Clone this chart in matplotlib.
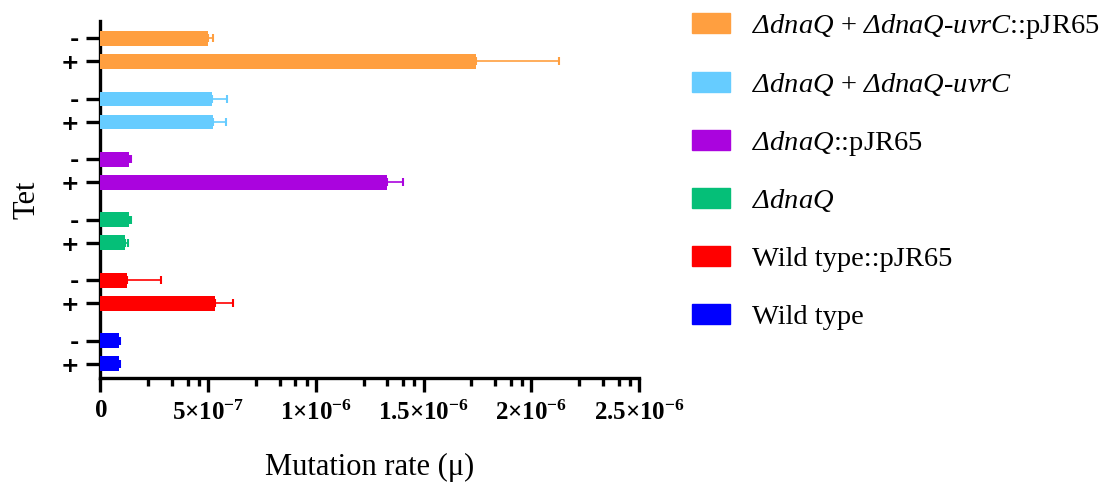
import numpy as np
import matplotlib
matplotlib.use("Agg")
import matplotlib.pyplot as plt
from matplotlib.patches import Rectangle
from matplotlib.ticker import FixedLocator

plt.rcParams['font.family'] = ['Liberation Serif', 'DejaVu Serif']
# math parts of the legend are the gene names, all italic (Greek capitals use the rm slot)
plt.rcParams['mathtext.fontset'] = 'custom'
plt.rcParams['mathtext.rm'] = 'Liberation Serif:italic'
plt.rcParams['mathtext.it'] = 'Liberation Serif:italic'
plt.rcParams['mathtext.bf'] = 'Liberation Serif:bold'

# strains, bottom to top
strain_labels = [
    'Wild type',
    'Wild type::pJR65',
    r'$\mathit{ΔdnaQ}$',
    r'$\mathit{ΔdnaQ}$::pJR65',
    r'$\mathit{ΔdnaQ}$ + $\mathit{ΔdnaQ}$-$\mathit{uvrC}$',
    r'$\mathit{ΔdnaQ}$ + $\mathit{ΔdnaQ}$-$\mathit{uvrC}$::pJR65',
]
colors = ['#0000FF', '#FF0000', '#05BF78', '#AA04DE', '#66CCFF', '#FF9F40']

# mutation rate with (+) and without (-) tetracycline
rate_plus = [0.86e-7, 5.30e-7, 1.14e-7, 13.30e-7, 5.25e-7, 17.45e-7]
rate_minus = [0.86e-7, 1.25e-7, 1.34e-7, 1.32e-7, 5.20e-7, 4.98e-7]
err_plus = [0.07e-7, 0.85e-7, 0.13e-7, 0.74e-7, 0.59e-7, 3.85e-7]
err_minus = [0.07e-7, 1.55e-7, 0.10e-7, 0.12e-7, 0.67e-7, 0.27e-7]

x_ticks = [0, 5e-7, 1e-6, 1.5e-6, 2e-6, 2.5e-6]
x_ticklabels = [r'$\mathbf{0}$', r'$\mathbf{5{\times}10^{-7}}$', r'$\mathbf{1{\times}10^{-6}}$',
                r'$\mathbf{1.5{\times}10^{-6}}$', r'$\mathbf{2{\times}10^{-6}}$',
                r'$\mathbf{2.5{\times}10^{-6}}$']

fig = plt.figure(figsize=(11.06, 4.84), dpi=100)
ax = fig.add_axes([100.3 / 1106, 106 / 484, 538.7 / 1106, 357.3 / 484])

gap = 0.38
bar_h = 0.243
y_plus = np.arange(len(strain_labels), dtype=float)
y_minus = y_plus + gap

for yp, ym, rp, rm, ep, em, c in zip(y_plus, y_minus, rate_plus, rate_minus,
                                      err_plus, err_minus, colors):
    ax.barh([yp, ym], [rp, rm], height=bar_h, color=c, zorder=3)
    ax.errorbar([rp, rm], [yp, ym], xerr=[[0, 0], [ep, em]], fmt='none',
                ecolor=c, elinewidth=1.2, capsize=2.8, capthick=1.5, zorder=2)

ax.set_xlim(0, 2.5e-6)
ax.set_ylim(-0.236, 5.674)

ax.set_xticks(x_ticks)
ax.set_xticklabels(x_ticklabels, fontsize=18)
minor_frac = [0.445, 0.665, 0.81, 0.915]
minor = [t + f * 5e-7 for t in x_ticks[:-1] for f in minor_frac]
ax.xaxis.set_minor_locator(FixedLocator(minor))

yt = np.concatenate([y_plus, y_minus])
ax.set_yticks(yt)
ax.set_yticklabels(['+'] * len(y_plus) + ['-'] * len(y_minus),
                   fontsize=16, fontweight='bold', family='DejaVu Sans')

ax.tick_params(axis='x', which='major', length=10, width=2.4, pad=6)
ax.tick_params(axis='x', which='minor', length=5.5, width=2.4)
ax.tick_params(axis='y', which='major', length=10, width=2.4, pad=5)

for s in ['top', 'right']:
    ax.spines[s].set_visible(False)
for s in ['left', 'bottom']:
    ax.spines[s].set_linewidth(2.4)

ax.set_xlabel('Mutation rate (μ)', fontsize=22)
ax.xaxis.set_label_coords(0.5, -0.21)
ax.set_ylabel('Tet', fontsize=22)
ax.yaxis.set_label_coords(-0.11, 0.5)

# legend, top row first
row0, step = 23.3, 58.2
for i, (lab, c) in enumerate(zip(strain_labels[::-1], colors[::-1])):
    yc = row0 + i * step
    fig.add_artist(Rectangle((691.5 / 1106, 1 - (yc + 10) / 484), 38.5 / 1106, 20 / 484,
                             transform=fig.transFigure, color=c))
    fig.text(752 / 1106, 1 - (yc + 10) / 484, lab, fontsize=20.5, va='baseline')

fig.savefig('out.png', dpi=100)
